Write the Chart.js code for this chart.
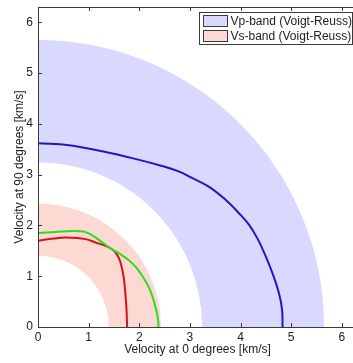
<!DOCTYPE html>
<html>
<head>
<meta charset="utf-8">
<script src="https://cdn.jsdelivr.net/npm/chart.js@4.4.1/dist/chart.umd.min.js"></script>
<style>
	body { margin: 0; overflow: hidden; background: #fff; }
</style>
</head>
<body>
<canvas id="chart" width="360" height="363"></canvas>
<script>
// band radii [inner, outer] in km/s
const vpBand = [3.24, 5.65];
const vsBand = [1.40, 2.43];

// velocity surfaces: x = velocity at 0 degrees, y = velocity at 90 degrees
const vpX = [0, 0.61, 1.27, 1.92, 2.45, 2.79, 3.05, 3.38, 3.71, 3.97, 4.17, 4.34, 4.45, 4.63, 4.76, 4.82, 4.83];
const vpY = [3.62, 3.58, 3.46, 3.31, 3.17, 3.06, 2.93, 2.76, 2.50, 2.24, 2.01, 1.73, 1.50, 1.06, 0.66, 0.34, 0];

const vs1X = [0, 0.30, 0.55, 0.94, 1.15, 1.33, 1.45, 1.55, 1.62, 1.67, 1.70, 1.73, 1.75, 1.76];
const vs1Y = [1.70, 1.74, 1.76, 1.73, 1.66, 1.60, 1.54, 1.44, 1.30, 1.10, 0.93, 0.60, 0.30, 0];

const vs2X = [0, 0.35, 0.65, 0.90, 1.08, 1.25, 1.41, 1.60, 1.80, 1.95, 2.07, 2.18, 2.26, 2.33, 2.37, 2.38];
const vs2Y = [1.85, 1.87, 1.89, 1.88, 1.80, 1.68, 1.56, 1.45, 1.31, 1.16, 0.99, 0.80, 0.60, 0.35, 0.15, 0];

const xTicks = [0, 1, 2, 3, 4, 5, 6];
const yTicks = [0, 1, 2, 3, 4, 5, 6];

const FONT = "'Liberation Sans', Arial, sans-serif";

function pts(xs, ys) {
	return xs.map((x, i) => ({ x: x, y: ys[i] }));
}

// quarter annulus outline: outer arc then inner arc back
function annulus(r) {
	let out = [];
	const n = 60;
	for (let i = 0; i <= n; i++) {
		let a = Math.PI / 2 * (1 - i / n);
		out.push({ x: r[1] * Math.cos(a), y: r[1] * Math.sin(a) });
	}
	for (let i = 0; i <= n; i++) {
		let a = Math.PI / 2 * (i / n);
		out.push({ x: r[0] * Math.cos(a), y: r[0] * Math.sin(a) });
	}
	return out;
}

const frame = {
	id: 'frame',
	afterDraw(chart) {
		const ctx = chart.ctx;
		const a = chart.chartArea;
		const xs = chart.scales.x, ys = chart.scales.y;
		ctx.save();
		ctx.strokeStyle = '#3a3a3a';
		ctx.lineWidth = 1;
		ctx.beginPath();
		ctx.rect(Math.round(a.left) + 0.5, Math.round(a.top) + 0.5,
			Math.round(a.right - a.left), Math.round(a.bottom - a.top));
		const tl = 4;
		xTicks.forEach(v => {
			let p = Math.round(xs.getPixelForValue(v)) + 0.5;
			ctx.moveTo(p, a.bottom); ctx.lineTo(p, a.bottom - tl);
			ctx.moveTo(p, a.top); ctx.lineTo(p, a.top + tl);
		});
		yTicks.forEach(v => {
			let p = Math.round(ys.getPixelForValue(v)) + 0.5;
			ctx.moveTo(a.left, p); ctx.lineTo(a.left + tl, p);
			ctx.moveTo(a.right, p); ctx.lineTo(a.right - tl, p);
		});
		ctx.stroke();

		// legend for the two bands
		const bx = 199.5, by = 12.5, bw = 153, bh = 32;
		ctx.fillStyle = '#fff';
		ctx.fillRect(bx, by, bw, bh);
		ctx.strokeStyle = '#3a3a3a';
		ctx.strokeRect(bx, by, bw, bh);
		ctx.font = '12px ' + FONT;
		ctx.textBaseline = 'middle';
		chart.data.datasets.slice(0, 2).forEach((ds, i) => {
			let y = by + 3 + i * 15;
			ctx.fillStyle = ds.backgroundColor;
			ctx.fillRect(bx + 4, y, 24, 11);
			ctx.strokeStyle = '#3a3a3a';
			ctx.strokeRect(bx + 4, y, 24, 11);
			ctx.fillStyle = '#222';
			ctx.fillText(ds.label, bx + 31, y + 6);
		});
		ctx.restore();
	}
};

const config = {
	type: 'scatter',
	data: {
		datasets: [
			{
				label: 'Vp-band (Voigt-Reuss)',
				data: annulus(vpBand),
				backgroundColor: 'rgb(217, 216, 255)',
				borderWidth: 0,
				showLine: true,
				fill: 'shape',
				pointRadius: 0,
				order: 10
			},
			{
				label: 'Vs-band (Voigt-Reuss)',
				data: annulus(vsBand),
				backgroundColor: 'rgb(252, 217, 211)',
				borderWidth: 0,
				showLine: true,
				fill: 'shape',
				pointRadius: 0,
				order: 9
			},
			{
				label: 'Vp',
				data: pts(vpX, vpY),
				borderColor: 'rgb(40, 20, 190)',
				borderWidth: 2,
				showLine: true,
				pointRadius: 0,
				tension: 0.4,
				order: 3
			},
			{
				label: 'Vs1',
				data: pts(vs1X, vs1Y),
				borderColor: 'rgb(210, 20, 25)',
				borderWidth: 2,
				showLine: true,
				pointRadius: 0,
				tension: 0.3,
				order: 2
			},
			{
				label: 'Vs2',
				data: pts(vs2X, vs2Y),
				borderColor: 'rgb(40, 222, 30)',
				borderWidth: 2,
				showLine: true,
				pointRadius: 0,
				tension: 0.3,
				order: 1
			}
		]
	},
	options: {
		responsive: false,
		animation: false,
		layout: { padding: { top: 7, right: 3, left: 0, bottom: 0 } },
		plugins: {
			legend: { display: false },
			tooltip: { enabled: false }
		},
		scales: {
			x: {
				type: 'linear',
				min: 0,
				max: 6.3,
				afterBuildTicks: s => { s.ticks = xTicks.map(v => ({ value: v })); },
				afterFit: s => { s.height = 36; s.paddingLeft = 0; s.paddingRight = 0; },
				grid: { display: false, drawTicks: false },
				border: { display: false },
				ticks: { padding: 3, color: '#222', font: { size: 12, family: FONT } },
				title: {
					display: true,
					text: 'Velocity at 0 degrees [km/s]',
					color: '#222',
					font: { size: 12, family: FONT },
					padding: { top: 0, bottom: 6 }
				}
			},
			y: {
				type: 'linear',
				min: 0,
				max: 6.3,
				afterBuildTicks: s => { s.ticks = yTicks.map(v => ({ value: v })); },
				afterFit: s => { s.width = 38; s.paddingTop = 0; s.paddingBottom = 0; },
				grid: { display: false, drawTicks: false },
				border: { display: false },
				ticks: { padding: 5, color: '#222', font: { size: 12, family: FONT } },
				title: {
					display: true,
					text: 'Velocity at 90 degrees [km/s]',
					color: '#222',
					font: { size: 12, family: FONT },
					padding: { top: 12, bottom: 0 }
				}
			}
		}
	},
	plugins: [frame]
};

let chart = new Chart(document.getElementById('chart').getContext('2d'), config);
</script>
</body>
</html>
